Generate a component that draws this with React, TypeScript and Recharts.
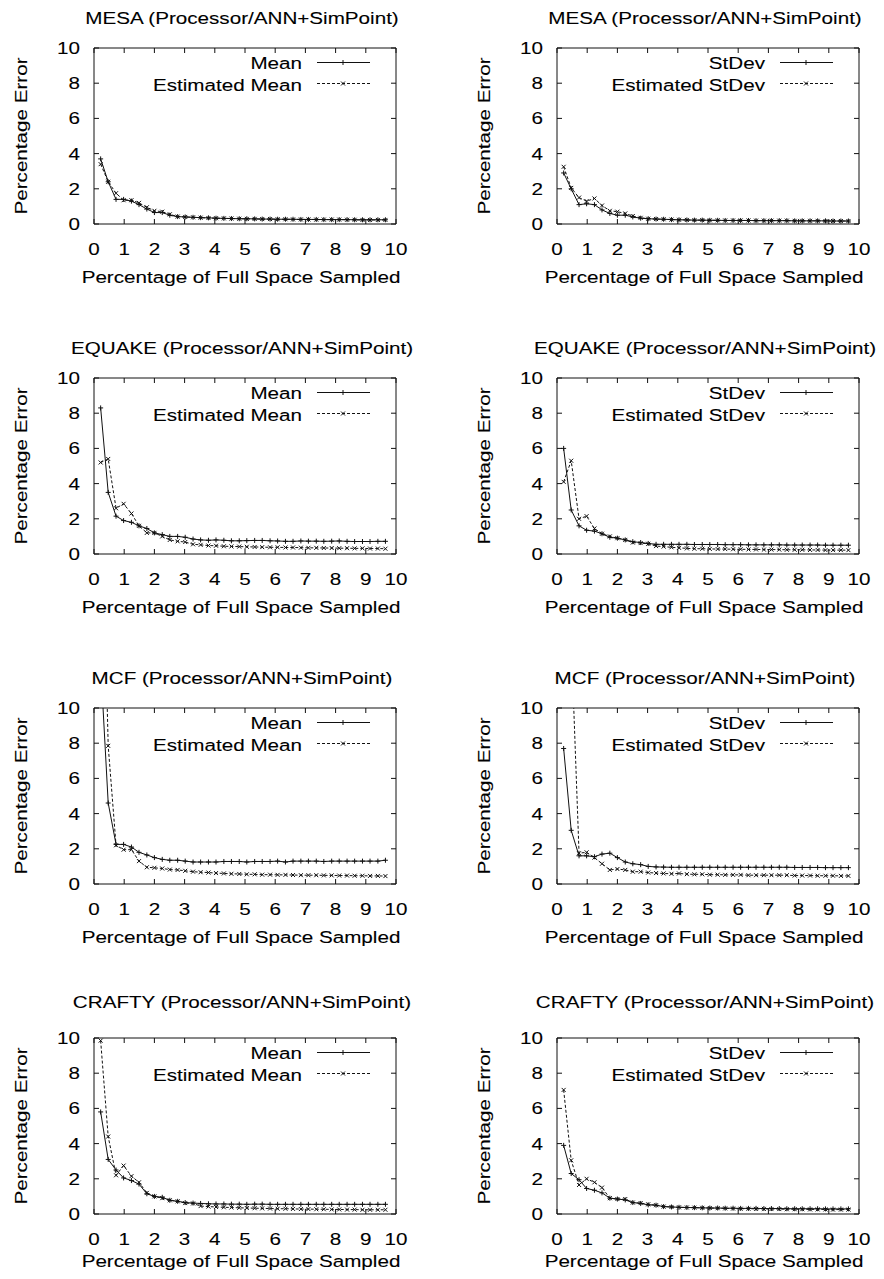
import { LineChart, Line, XAxis, YAxis } from "recharts";

// sample sizes (percentage of full space sampled)
const xs = [
  0.22, 0.47, 0.73, 0.98, 1.24, 1.49, 1.75, 2.0, 2.26, 2.51,
  2.77, 3.02, 3.28, 3.53, 3.79, 4.04, 4.3, 4.55, 4.81, 5.06,
  5.32, 5.57, 5.83, 6.08, 6.34, 6.59, 6.85, 7.1, 7.36, 7.61,
  7.87, 8.12, 8.38, 8.63, 8.89, 9.14, 9.4, 9.65,
];
const xTicks = [0, 1, 2, 3, 4, 5, 6, 7, 8, 9, 10];
const yTicks = [0, 2, 4, 6, 8, 10];

const mesaMean = [
  3.7, 2.4, 1.4, 1.4, 1.3, 1.1, 0.85, 0.65, 0.65, 0.5,
  0.42, 0.4, 0.38, 0.36, 0.35, 0.33, 0.32, 0.31, 0.3, 0.3,
  0.29, 0.28, 0.28, 0.27, 0.27, 0.27, 0.26, 0.26, 0.26, 0.25,
  0.25, 0.25, 0.25, 0.24, 0.24, 0.24, 0.24, 0.24,
];
const mesaMeanEst = [
  3.4, 2.4, 1.75, 1.35, 1.35, 1.2, 0.95, 0.75, 0.7, 0.55,
  0.42, 0.4, 0.38, 0.36, 0.34, 0.33, 0.32, 0.31, 0.3, 0.29,
  0.29, 0.28, 0.28, 0.27, 0.27, 0.26, 0.26, 0.26, 0.25, 0.25,
  0.25, 0.25, 0.24, 0.24, 0.23, 0.23, 0.23, 0.23,
];
const mesaSd = [
  2.9, 2.0, 1.1, 1.15, 1.1, 0.8, 0.6, 0.5, 0.5, 0.4,
  0.33, 0.3, 0.28, 0.27, 0.25, 0.24, 0.23, 0.22, 0.22, 0.21,
  0.21, 0.2, 0.2, 0.2, 0.2, 0.19, 0.19, 0.19, 0.19, 0.19,
  0.18, 0.18, 0.18, 0.18, 0.18, 0.17, 0.17, 0.17,
];
const mesaSdEst = [
  3.25, 2.05, 1.5, 1.3, 1.45, 1.05, 0.75, 0.7, 0.6, 0.45,
  0.35, 0.3, 0.28, 0.27, 0.25, 0.24, 0.23, 0.22, 0.22, 0.21,
  0.21, 0.2, 0.2, 0.2, 0.2, 0.19, 0.19, 0.19, 0.19, 0.19,
  0.18, 0.18, 0.18, 0.18, 0.17, 0.17, 0.17, 0.17,
];
const equakeMean = [
  8.3, 3.5, 2.15, 1.9, 1.8, 1.6, 1.45, 1.2, 1.1, 1.0,
  1.0, 0.95, 0.85, 0.8, 0.78, 0.8, 0.78, 0.75, 0.75, 0.76,
  0.77, 0.77, 0.75, 0.74, 0.72, 0.72, 0.74, 0.73, 0.73, 0.72,
  0.73, 0.74, 0.72, 0.71, 0.71, 0.71, 0.72, 0.72,
];
const equakeMeanEst = [
  5.2, 5.4, 2.6, 2.85, 2.3, 1.6, 1.2, 1.2, 1.0, 0.8,
  0.72, 0.68, 0.55, 0.52, 0.48, 0.47, 0.44, 0.43, 0.42, 0.41,
  0.4, 0.39, 0.38, 0.38, 0.37, 0.37, 0.36, 0.35, 0.35, 0.34,
  0.34, 0.33, 0.33, 0.32, 0.32, 0.31, 0.31, 0.3,
];
const equakeSd = [
  6.0, 2.5, 1.6, 1.35, 1.3, 1.15, 0.95, 0.9, 0.8, 0.7,
  0.65, 0.6, 0.55, 0.55, 0.55, 0.55, 0.55, 0.54, 0.54, 0.54,
  0.54, 0.53, 0.53, 0.53, 0.52, 0.52, 0.52, 0.52, 0.52, 0.51,
  0.51, 0.51, 0.51, 0.51, 0.5, 0.5, 0.5, 0.5,
];
const equakeSdEst = [
  4.1, 5.3, 2.0, 2.15, 1.45, 1.15, 1.0, 0.9, 0.8, 0.65,
  0.62, 0.58, 0.45, 0.42, 0.38, 0.35, 0.32, 0.3, 0.3, 0.29,
  0.28, 0.28, 0.27, 0.27, 0.26, 0.26, 0.25, 0.25, 0.25, 0.24,
  0.24, 0.24, 0.23, 0.23, 0.22, 0.22, 0.22, 0.22,
];
const mcfMean = [
  12.5, 4.6, 2.25, 2.25, 2.1, 1.8, 1.65, 1.5, 1.4, 1.35,
  1.35, 1.3, 1.25, 1.25, 1.25, 1.25, 1.28, 1.28, 1.28, 1.25,
  1.28, 1.28, 1.28, 1.3, 1.25, 1.3, 1.3, 1.3, 1.3, 1.28,
  1.3, 1.3, 1.3, 1.3, 1.3, 1.3, 1.3, 1.35,
];
const mcfMeanEst = [
  25, 7.85, 2.2, 1.95, 1.95, 1.3, 0.95, 0.92, 0.88, 0.82,
  0.8, 0.75, 0.7, 0.67, 0.65, 0.62, 0.6, 0.58, 0.57, 0.55,
  0.55, 0.53, 0.53, 0.52, 0.52, 0.51, 0.5, 0.5, 0.5, 0.49,
  0.49, 0.48, 0.48, 0.47, 0.47, 0.46, 0.46, 0.45,
];
const mcfSd = [
  7.7, 3.05, 1.6, 1.6, 1.55, 1.7, 1.75, 1.5, 1.25, 1.15,
  1.1, 1.0, 0.97, 0.96, 0.95, 0.95, 0.95, 0.95, 0.95, 0.95,
  0.95, 0.95, 0.95, 0.95, 0.95, 0.95, 0.95, 0.95, 0.95, 0.95,
  0.94, 0.94, 0.94, 0.94, 0.93, 0.93, 0.93, 0.93,
];
const mcfSdEst = [
  30, 14, 1.75, 1.8, 1.5, 1.15, 0.8, 0.85, 0.8, 0.7,
  0.7, 0.65, 0.62, 0.6, 0.58, 0.6, 0.56, 0.55, 0.55, 0.53,
  0.53, 0.52, 0.52, 0.52, 0.5, 0.5, 0.5, 0.5, 0.5, 0.5,
  0.48, 0.48, 0.48, 0.47, 0.47, 0.47, 0.46, 0.46,
];
const craftyMean = [
  5.8, 3.1, 2.5, 2.05, 1.9, 1.7, 1.15, 1.0, 0.95, 0.78,
  0.72, 0.65, 0.62, 0.6, 0.58, 0.57, 0.57, 0.56, 0.56, 0.55,
  0.56, 0.56, 0.55, 0.55, 0.55, 0.55, 0.55, 0.55, 0.55, 0.55,
  0.55, 0.55, 0.55, 0.55, 0.55, 0.55, 0.55, 0.55,
];
const craftyMeanEst = [
  9.85, 4.4, 2.2, 2.75, 2.15, 1.8, 1.2, 1.0, 0.9, 0.78,
  0.72, 0.62, 0.6, 0.45, 0.42, 0.4, 0.38, 0.37, 0.35, 0.34,
  0.33, 0.32, 0.31, 0.3, 0.3, 0.29, 0.28, 0.28, 0.27, 0.27,
  0.26, 0.26, 0.25, 0.25, 0.24, 0.24, 0.24, 0.24,
];
const craftySd = [
  3.9, 2.3, 1.95, 1.45, 1.35, 1.2, 0.9, 0.85, 0.8, 0.65,
  0.6, 0.52, 0.5, 0.42, 0.4, 0.38, 0.37, 0.36, 0.35, 0.34,
  0.34, 0.33, 0.33, 0.32, 0.32, 0.32, 0.31, 0.31, 0.31, 0.3,
  0.3, 0.3, 0.3, 0.3, 0.29, 0.29, 0.29, 0.29,
];
const craftySdEst = [
  7.05, 3.05, 1.65, 2.0, 1.8, 1.5, 0.9, 0.85, 0.85, 0.65,
  0.62, 0.55, 0.5, 0.42, 0.4, 0.38, 0.37, 0.36, 0.35, 0.34,
  0.33, 0.32, 0.31, 0.3, 0.3, 0.29, 0.29, 0.28, 0.28, 0.27,
  0.27, 0.27, 0.26, 0.26, 0.26, 0.25, 0.25, 0.25,
];

const benchmarks = ["MESA", "EQUAKE", "MCF", "CRAFTY"];
const meanSeries = [
  [mesaMean, mesaMeanEst],
  [equakeMean, equakeMeanEst],
  [mcfMean, mcfMeanEst],
  [craftyMean, craftyMeanEst],
];
const sdSeries = [
  [mesaSd, mesaSdEst],
  [equakeSd, equakeSdEst],
  [mcfSd, mcfSdEst],
  [craftySd, craftySdEst],
];

const FONT = '"Liberation Sans", Arial, Helvetica, sans-serif';
const INK = "#111";
const W = 421;
const H = 289;

// gnuplot's helvetica came out wide, so stretch the text a bit
function Txt({ x, y, children, anchor = "middle", rotate = false }: any) {
  return (
    <text
      transform={`translate(${x},${y})${rotate ? " rotate(-90)" : ""} scale(1.2,1)`}
      textAnchor={anchor}
      fontSize={17.2}
      fontFamily={FONT}
      fill="#000"
      stroke="#000"
      strokeWidth={0.1}
    >
      {children}
    </text>
  );
}

function XTick({ x, y, payload }: any) {
  return <Txt x={x} y={y + 30.5}>{payload.value}</Txt>;
}
function YTick({ x, y, payload }: any) {
  return <Txt x={x - 14} y={y + 6} anchor="end">{payload.value}</Txt>;
}
function NoTick() {
  return <g />;
}

function plus(cx: number, cy: number, r = 2.5) {
  return `M${cx - r},${cy}H${cx + r}M${cx},${cy - r}V${cy + r}`;
}
function cross(cx: number, cy: number, r = 2) {
  return `M${cx - r},${cy - r}L${cx + r},${cy + r}M${cx - r},${cy + r}L${cx + r},${cy - r}`;
}

function Panel({ left, top, title, name, actual, estimated, titleY, labelY }: any) {
  const rows = xs.map((x, i) => ({ x, actual: actual[i], estimated: estimated[i] }));
  return (
    <div style={{ position: "absolute", left, top, width: W, height: H }}>
      <LineChart width={W} height={H} data={rows} margin={{ top: 47, right: 24, bottom: 64, left: 93 }}>
        <XAxis xAxisId="b" dataKey="x" type="number" domain={[0, 10]} ticks={xTicks} height={1}
          tickSize={-5} tickMargin={5} tick={<XTick />} stroke={INK} allowDataOverflow />
        <XAxis xAxisId="t" orientation="top" dataKey="x" type="number" domain={[0, 10]} ticks={xTicks}
          height={1} tickSize={-5} tick={<NoTick />} stroke={INK} allowDataOverflow />
        <YAxis yAxisId="l" type="number" domain={[0, 10]} ticks={yTicks} width={1}
          tickSize={-5} tickMargin={5} tick={<YTick />} stroke={INK} allowDataOverflow />
        <YAxis yAxisId="r" orientation="right" type="number" domain={[0, 10]} ticks={yTicks} width={1}
          tickSize={-5} tick={<NoTick />} stroke={INK} allowDataOverflow />
        <Line xAxisId="b" yAxisId="l" type="linear" dataKey="actual" stroke={INK} strokeWidth={1}
          isAnimationActive={false}
          dot={(p: any) => <path key={`a${p.index}`} d={plus(p.cx, p.cy)} stroke={INK} strokeWidth={1} fill="none" />}
          activeDot={false} />
        <Line xAxisId="b" yAxisId="l" type="linear" dataKey="estimated" stroke={INK} strokeWidth={1}
          strokeDasharray="3 2" isAnimationActive={false}
          dot={(p: any) => <path key={`e${p.index}`} d={cross(p.cx, p.cy)} stroke={INK} strokeWidth={1} fill="none" />}
          activeDot={false} />
      </LineChart>
      <svg width={W} height={H} style={{ position: "absolute", left: 0, top: 0, pointerEvents: "none" }}>
        <Txt x={242} y={titleY}>{title}</Txt>
        <Txt x={241} y={labelY}>Percentage of Full Space Sampled</Txt>
        <Txt x={27} y={136} rotate>Percentage Error</Txt>
        <Txt x={302} y={68.5} anchor="end">{name}</Txt>
        <line x1={317} x2={370} y1={62.5} y2={62.5} stroke={INK} strokeWidth={1} />
        <path d={plus(343, 62.5)} stroke={INK} strokeWidth={1} />
        <Txt x={302} y={90.5} anchor="end">{`Estimated ${name}`}</Txt>
        <line x1={317} x2={370} y1={83.5} y2={83.5} stroke={INK} strokeWidth={1} strokeDasharray="3 2" />
        <path d={cross(343, 83.5)} stroke={INK} strokeWidth={1} />
      </svg>
    </div>
  );
}

export default function App() {
  return (
    <div style={{ position: "absolute", left: 0, top: 0, width: 884, height: 1279, overflow: "hidden", background: "#fff" }}>
      {benchmarks.map((b, row) => {
        const top = row * 330;
        const titleY = row === 3 ? 17.5 : 24;
        const labelY = row === 3 ? 277 : 283;
        const title = `${b} (Processor/ANN+SimPoint)`;
        return [
          <Panel key={`${b}-m`} left={0} top={top} title={title} name="Mean"
            actual={meanSeries[row][0]} estimated={meanSeries[row][1]} titleY={titleY} labelY={labelY} />,
          <Panel key={`${b}-s`} left={463} top={top} title={title} name="StDev"
            actual={sdSeries[row][0]} estimated={sdSeries[row][1]} titleY={titleY} labelY={labelY} />,
        ];
      })}
    </div>
  );
}
